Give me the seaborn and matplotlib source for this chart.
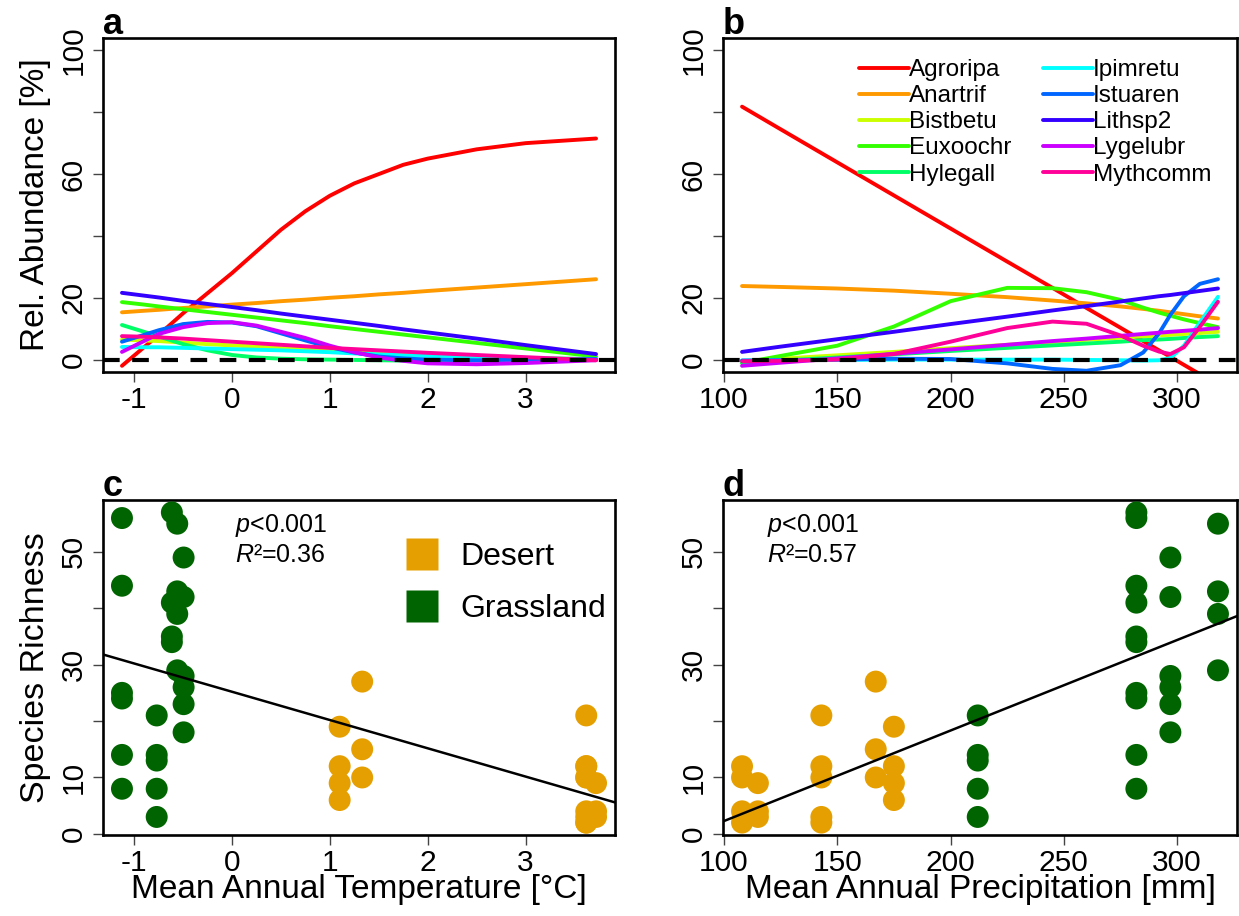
import numpy as np
import pandas as pd
import matplotlib
matplotlib.use("Agg")
import matplotlib.pyplot as plt
from matplotlib.lines import Line2D
import seaborn as sns

# ---------------------------------------------------------------- species curves
species = ["Agroripa", "Anartrif", "Bistbetu", "Euxoochr", "Hylegall",
           "Ipimretu", "Istuaren", "Lithsp2", "Lygelubr", "Mythcomm"]
species_colors = ["#FF0000", "#FF9900", "#CCFF00", "#33FF00", "#00FF66",
                  "#00FFFF", "#0066FF", "#3300FF", "#CC00FF", "#FF0099"]

# fitted relative abundance (%) along mean annual temperature (degC)
temp_grid = [-1.125, -0.9, -0.75, -0.5, -0.25, 0.0, 0.25, 0.5, 0.75, 1.0, 1.25, 1.5, 1.75, 2.0, 2.5, 3.0, 3.72]
agroripa_t = [-2.0, 4.0, 8.0, 15.0, 21.5, 28.0, 35.0, 42.0, 48.0, 53.0, 57.0, 60.0, 63.0, 65.0, 68.0, 70.0, 71.5]
anartrif_t = [15.3, 15.8, 16.1, 16.7, 17.2, 17.8, 18.3, 18.9, 19.4, 20.0, 20.5, 21.1, 21.6, 22.2, 23.3, 24.4, 26.0]
bistbetu_t = [6.5, 6.2, 6.0, 5.5, 5.0, 4.6, 4.2, 3.8, 3.4, 3.0, 2.6, 2.2, 1.8, 1.5, 0.9, 0.5, 0.2]
euxoochr_t = [18.6, 17.8, 17.2, 16.3, 15.4, 14.5, 13.6, 12.7, 11.8, 10.8, 9.9, 9.0, 8.1, 7.2, 5.4, 3.6, 1.0]
hylegall_t = [11.2, 9.0, 7.5, 5.0, 3.0, 1.5, 0.7, 0.3, 0.1, 0.0, -0.1, -0.2, -0.3, -0.3, -0.2, 0.0, 0.2]
ipimretu_t = [4.1, 4.0, 4.0, 3.8, 3.6, 3.4, 3.2, 3.0, 2.7, 2.4, 2.0, 1.7, 1.4, 1.2, 0.8, 0.5, 0.2]
istuaren_t = [5.8, 8.0, 9.5, 11.5, 12.2, 12.0, 10.8, 8.5, 6.2, 4.0, 2.3, 1.0, 0.4, 0.0, -0.2, 0.0, 0.2]
lithsp2_t = [21.6, 20.7, 20.1, 19.0, 18.0, 17.0, 16.0, 14.9, 13.9, 12.9, 11.9, 10.9, 9.8, 8.8, 6.8, 4.7, 1.8]
lygelubr_t = [2.5, 6.0, 8.3, 10.5, 11.8, 12.1, 11.0, 9.0, 7.0, 4.5, 2.4, 0.7, -0.4, -1.2, -1.5, -1.1, -0.2]
mythcomm_t = [7.6, 7.4, 7.2, 6.8, 6.3, 5.8, 5.3, 4.8, 4.3, 3.8, 3.4, 3.0, 2.6, 2.2, 1.5, 0.8, -0.2]

# fitted relative abundance (%) along mean annual precipitation (mm)
precip_grid = [108, 125, 150, 175, 200, 225, 245, 260, 275, 285, 292, 297, 303, 310, 318]
agroripa_p = [81.8, 74.5, 63.8, 53.1, 42.4, 31.7, 23.2, 16.7, 10.3, 6.0, 3.0, 0.9, -1.7, -4.7, -8.1]
anartrif_p = [23.8, 23.5, 23.0, 22.3, 21.3, 20.2, 19.1, 18.2, 17.2, 16.4, 15.8, 15.3, 14.7, 14.0, 13.3]
bistbetu_p = [-0.5, 0.3, 1.4, 2.5, 3.7, 4.8, 5.7, 6.4, 7.1, 7.5, 7.8, 8.0, 8.3, 8.6, 9.0]
euxoochr_p = [-1.1, 1.2, 4.5, 10.7, 18.9, 23.2, 23.1, 21.8, 19.3, 16.8, 15.2, 14.2, 13.0, 11.8, 10.5]
hylegall_p = [-1.0, -0.3, 0.7, 1.7, 2.8, 3.8, 4.6, 5.2, 5.8, 6.3, 6.5, 6.7, 7.0, 7.3, 7.6]
ipimretu_p = [-0.3, -0.2, -0.1, 0.0, 0.0, 0.0, 0.0, -0.1, -0.2, -0.3, -0.2, 0.5, 4.5, 12.0, 20.3]
istuaren_p = [-0.3, -0.2, 0.0, 0.3, 0.2, -1.2, -3.0, -3.6, -1.8, 2.3, 8.5, 14.5, 20.5, 24.5, 26.0]
lithsp2_p = [2.5, 4.2, 6.6, 9.0, 11.5, 13.9, 15.9, 17.3, 18.8, 19.8, 20.5, 20.9, 21.5, 22.2, 23.0]
lygelubr_p = [-2.0, -1.0, 0.4, 1.9, 3.3, 4.8, 6.0, 6.8, 7.7, 8.3, 8.7, 9.0, 9.3, 9.7, 10.2]
mythcomm_p = [-0.5, -0.4, 0.0, 1.8, 5.8, 10.2, 12.3, 11.6, 7.8, 4.5, 2.6, 1.8, 4.0, 10.6, 18.7]

# ---------------------------------------------------------------- plot richness
plot_biome = (["Desert"] * 19) + (["Grassland"] * 25)
plot_temp = ([1.10] * 4 + [1.33] * 3 + [3.62] * 5 + [3.62] * 4 + [3.72] * 3
             + [-1.125] * 6 + [-0.77] * 5 + [-0.615] * 4 + [-0.56] * 4 + [-0.495] * 6)
plot_precip = ([175] * 4 + [167] * 3 + [143] * 5 + [108] * 4 + [115] * 3
               + [282] * 6 + [212] * 5 + [282] * 4 + [318] * 4 + [297] * 6)
plot_richness = ([19, 12, 9, 6] + [27, 15, 10] + [21, 12, 10, 3, 2] + [12, 10, 4, 2] + [9, 4, 3]
                 + [56, 44, 25, 24, 14, 8] + [21, 14, 13, 8, 3] + [57, 41, 35, 34]
                 + [55, 43, 39, 29] + [49, 42, 28, 26, 23, 18])
biome_order = ["Desert", "Grassland"]
biome_colors = ["#E69F00", "#006400"]
stats_temp = ["<0.001", "0.36"]
stats_precip = ["<0.001", "0.57"]

# ---------------------------------------------------------------- tables
curves_t = [agroripa_t, anartrif_t, bistbetu_t, euxoochr_t, hylegall_t,
            ipimretu_t, istuaren_t, lithsp2_t, lygelubr_t, mythcomm_t]
curves_p = [agroripa_p, anartrif_p, bistbetu_p, euxoochr_p, hylegall_p,
            ipimretu_p, istuaren_p, lithsp2_p, lygelubr_p, mythcomm_p]
df_t = pd.concat([pd.DataFrame({"x": temp_grid, "y": v, "species": s})
                  for s, v in zip(species, curves_t)], ignore_index=True)
df_p = pd.concat([pd.DataFrame({"x": precip_grid, "y": v, "species": s})
                  for s, v in zip(species, curves_p)], ignore_index=True)
plots = pd.DataFrame({"biome": plot_biome, "temp": plot_temp,
                      "precip": plot_precip, "richness": plot_richness})


def padded(values, frac=0.04):
    lo, hi = min(values), max(values)
    r = hi - lo
    return lo - frac * r, hi + frac * r


# ---------------------------------------------------------------- style
sns.set_theme(style="ticks")
plt.rcParams.update({
    "font.family": ["Liberation Sans", "DejaVu Sans"],
    "mathtext.fontset": "custom",
    "mathtext.rm": "Liberation Sans",
    "mathtext.it": "Liberation Sans:italic",
    "axes.unicode_minus": False,
    "text.color": "black",
    "axes.labelcolor": "black",
    "axes.linewidth": 1.9,
    "axes.edgecolor": "black",
    "axes.facecolor": "white",
    "xtick.color": "#444444", "ytick.color": "#444444",
    "xtick.labelcolor": "black", "ytick.labelcolor": "black",
    "xtick.major.size": 7, "ytick.major.size": 7,
    "xtick.major.width": 1.0, "ytick.major.width": 1.0,
    "xtick.labelsize": 21.5, "ytick.labelsize": 21.5,
    "xtick.major.pad": 3, "ytick.major.pad": 4,
})

fig = plt.figure(figsize=(12.39, 9.16), dpi=100)
W, H = 1239.0, 916.0


def rect(l, r, t, b):
    return [l / W, 1 - b / H, (r - l) / W, (b - t) / H]


ax_a = fig.add_axes(rect(103, 615, 38, 372))
ax_b = fig.add_axes(rect(723, 1237, 38, 372))
ax_c = fig.add_axes(rect(103, 615, 500, 835))
ax_d = fig.add_axes(rect(723, 1237, 500, 835))


def finish_axes(ax, letter, xlim, xticks, ylim, yticks, ylabels):
    ax.set_xlim(*xlim)
    ax.set_ylim(*ylim)
    ax.set_xticks(xticks)
    ax.set_xticklabels([str(v) for v in xticks])
    ax.set_yticks(yticks)
    ax.set_yticklabels(ylabels)
    for lab in ax.get_yticklabels():
        lab.set_rotation(90)
        lab.set_va("center")
    for sp in ax.spines.values():
        sp.set_visible(True)
        sp.set_linewidth(1.9)
    ax.text(0.0, 1.012, letter, transform=ax.transAxes, ha="left", va="baseline",
            fontsize=26, fontweight="bold", color="black")


temp_lim = padded(plot_temp)
precip_lim = padded(plot_precip)
rich_lim = padded(plot_richness)

# ---------------------------------------------------------------- panel a / b
for ax, df in ((ax_a, df_t), (ax_b, df_p)):
    sns.lineplot(data=df, x="x", y="y", hue="species", hue_order=species,
                 palette=species_colors, lw=2.8, sort=False, estimator=None,
                 legend=False, ax=ax)
    ax.axhline(0, color="black", lw=3.0, dashes=(4, 3), zorder=5)
    ax.set_xlabel("")
    ax.set_ylabel("")

finish_axes(ax_a, "a", temp_lim, [-1, 0, 1, 2, 3], (-4, 104),
            [0, 20, 40, 60, 80, 100], ["0", "20", "", "60", "", "100"])
finish_axes(ax_b, "b", precip_lim, [100, 150, 200, 250, 300], (-4, 104),
            [0, 20, 40, 60, 80, 100], ["0", "20", "", "60", "", "100"])
ax_a.set_ylabel("Rel. Abundance [%]", fontsize=24, labelpad=6)

handles = [Line2D([], [], color=c, lw=2.8) for c in species_colors]
ax_b.legend(handles, species, ncol=2, loc="upper left",
            bbox_to_anchor=(0.2646, 0.937), frameon=False, fontsize=17.5,
            handlelength=2.05, handletextpad=0.0, columnspacing=1.3,
            labelspacing=0.17, borderpad=0.0, borderaxespad=0.0)

# ---------------------------------------------------------------- panel c / d
for ax, xcol, xlim, xticks, stats, tx in (
        (ax_c, "temp", temp_lim, [-1, 0, 1, 2, 3], stats_temp, 0.258),
        (ax_d, "precip", precip_lim, [100, 150, 200, 250, 300], stats_precip, 0.086)):
    sns.scatterplot(data=plots, x=xcol, y="richness", hue="biome",
                    hue_order=biome_order, palette=biome_colors, s=250,
                    linewidth=0, alpha=1.0, legend=False, ax=ax, zorder=3)
    ax.set_xlim(*xlim)
    sns.regplot(data=plots, x=xcol, y="richness", scatter=False, ci=None,
                truncate=False, color="black", line_kws={"lw": 1.8, "zorder": 4}, ax=ax)
    finish_axes(ax, "c" if ax is ax_c else "d", xlim, xticks, rich_lim,
                [0, 10, 20, 30, 40, 50], ["0", "10", "", "30", "", "50"])
    ax.text(tx, 0.905, "$p$" + stats[0], transform=ax.transAxes, fontsize=18,
            ha="left", va="baseline")
    ax.text(tx, 0.815, "$R$\u00b2=" + stats[1], transform=ax.transAxes, fontsize=18,
            ha="left", va="baseline")
    ax.set_ylabel("")

ax_c.set_ylabel("Species Richness", fontsize=24.5, labelpad=6)
ax_c.set_xlabel("Mean Annual Temperature [\u00b0C]", fontsize=24, labelpad=-2)
ax_d.set_xlabel("Mean Annual Precipitation [mm]", fontsize=24, labelpad=-2)

biome_handles = [Line2D([], [], marker="s", ls="none", markersize=23.5,
                        markerfacecolor=c, markeredgecolor="none") for c in biome_colors]
ax_c.legend(biome_handles, biome_order, loc="upper left",
            bbox_to_anchor=(0.586, 0.875), frameon=False, fontsize=23,
            handlelength=1.2, handletextpad=0.6, labelspacing=0.69,
            borderpad=0.0, borderaxespad=0.0)

fig.savefig("out.png", dpi=100)
